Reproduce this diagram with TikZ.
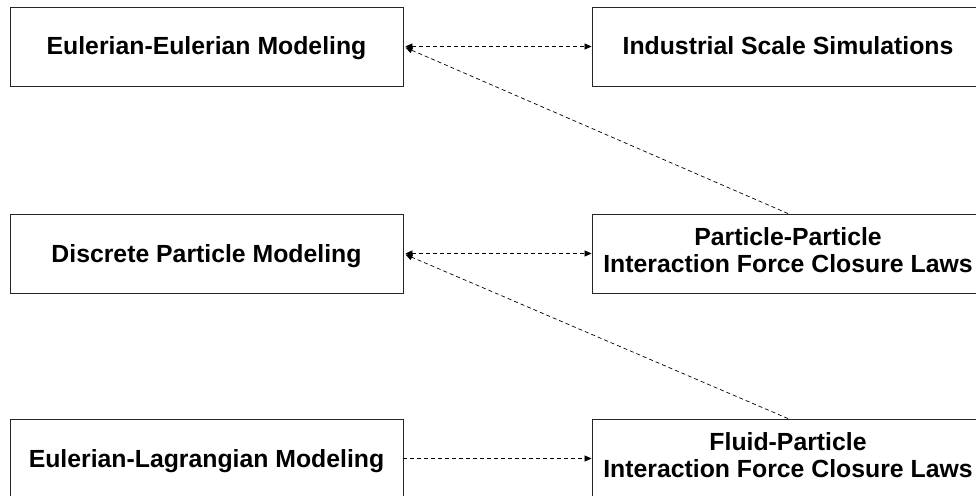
\documentclass[tikz,border=0pt]{standalone}
\usepackage{fontspec}
\setmainfont{Liberation Sans}
\usetikzlibrary{arrows.meta}
\begin{document}
\begin{tikzpicture}[x=1pt,y=-1pt,
  boxnode/.style={draw=black!85, line width=0.9pt, minimum width=393pt, minimum height=79pt, inner sep=0pt, font=\bfseries\fontsize{24.8}{27}\selectfont, text height=20pt, text depth=3pt},
  twoline/.style={boxnode, text height=, text depth=},
  link/.style={dashed, dash pattern=on 4pt off 3pt, line width=0.7pt, -{Triangle[length=7pt,width=6pt]}},
  biglink/.style={link, {Triangle[length=7pt,width=6pt]}-{Triangle[length=7pt,width=6pt]}}]
\useasboundingbox (0,0) rectangle (976,495);
\fill[white] (0,0) rectangle (976,495);
\node[boxnode] (ee) at (206.5,46.5) {Eulerian-Eulerian Modeling};
\node[boxnode, minimum width=392pt] (iss) at (788,46.5) {Industrial Scale Simulations};
\node[boxnode] (dpm) at (206.5,253.5) {Discrete Particle Modeling};
\node[twoline, minimum width=392pt] (pp) at (788,253.5) {\raisebox{0.5pt}{\begin{tabular}{@{}c@{}}Particle-Particle\\Interaction Force Closure Laws\end{tabular}}};
\node[boxnode] (el) at (206.5,458.5) {Eulerian-Lagrangian Modeling};
\node[twoline, minimum width=392pt] (fp) at (788,458.5) {\raisebox{0.5pt}{\begin{tabular}{@{}c@{}}Fluid-Particle\\Interaction Force Closure Laws\end{tabular}}};
\draw[biglink] ([xshift=2pt]ee.east) -- (iss.west);
\draw[biglink] ([xshift=2pt]dpm.east) -- (pp.west);
\draw[link] (el.east) -- (fp.west);
\draw[link] (pp.north) -- ([xshift=2pt,yshift=-1pt]ee.east);
\draw[link] (fp.north) -- ([xshift=2pt,yshift=-1pt]dpm.east);
\end{tikzpicture}
\end{document}
